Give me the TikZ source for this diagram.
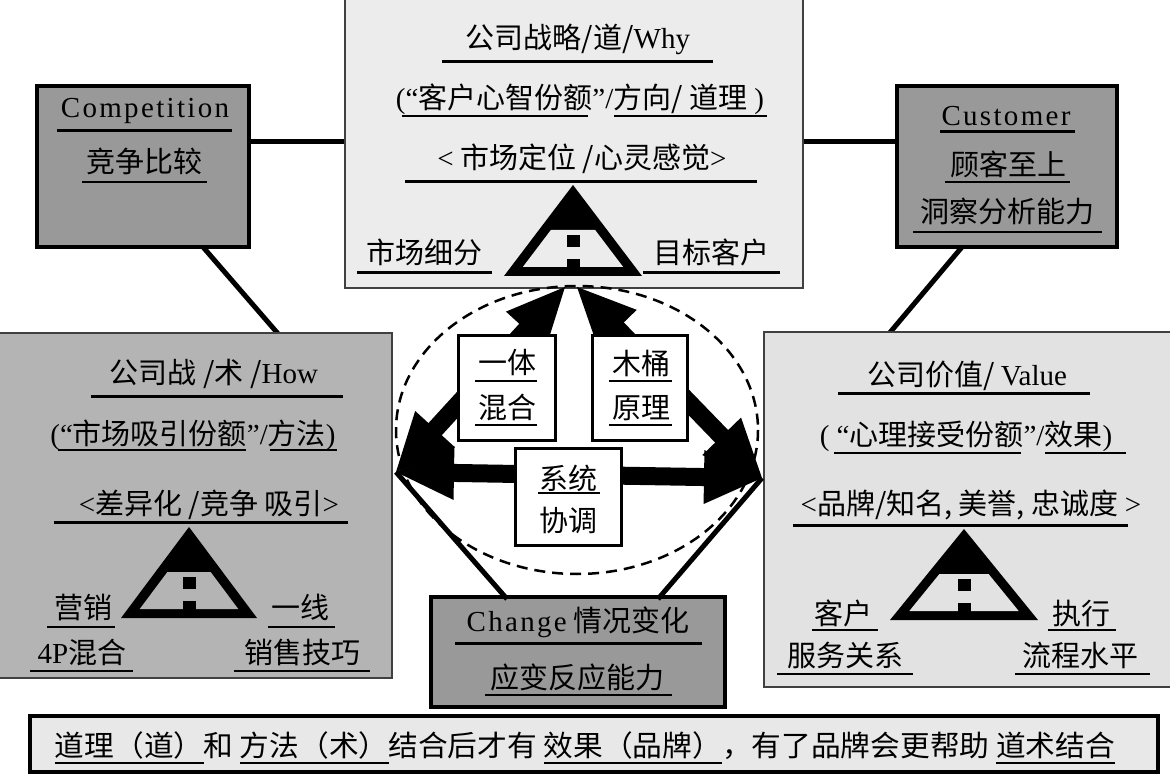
\documentclass[tikz,border=0pt]{standalone}
\usepackage{fontspec}
\setmainfont{Noto Sans CJK SC}
\newfontfamily\latf{Liberation Serif}
\newfontfamily\latsp[LetterSpace=8]{Liberation Serif}
\newcommand\lat[1]{{\latf #1}}
\newcommand\ulx[1]{\setbox0\hbox{#1}\rlap{\rule[-8pt]{\wd0}{2.5pt}}\box0}
\usetikzlibrary{calc}
\definecolor{topfill}{RGB}{236,236,236}
\definecolor{valfill}{RGB}{226,226,226}
\definecolor{howfill}{RGB}{180,180,180}
\definecolor{darkfill}{RGB}{153,153,153}
\definecolor{botfill}{RGB}{232,232,232}
\newcommand\dblarrow[2]{%
  \coordinate (p1) at ($(#1)!58pt!(#2)$);
  \coordinate (p2) at ($(#2)!58pt!(#1)$);
  \fill (#1) -- ($(p1)!27pt!90:(#2)$) -- ($(p1)!9pt!90:(#2)$) -- ($(p2)!9pt!-90:(#1)$)
    -- ($(p2)!27pt!-90:(#1)$) -- (#2) -- ($(p2)!27pt!90:(#1)$) -- ($(p2)!9pt!90:(#1)$)
    -- ($(p1)!9pt!-90:(#2)$) -- ($(p1)!27pt!-90:(#2)$) -- cycle;}
\newcommand\logo[4]{%
  \begin{scope}[shift={(#1,#2)}]
    \pgfmathsetmacro\la{#3*45/91-12}
    \pgfmathsetmacro\lb{#3*82/91-12}
    \fill (0,0) -- (-#3,91) -- (#3,91) -- cycle;
    \fill[#4] (-\la,45) -- (\la,45) -- (\lb,82) -- (-\lb,82) -- cycle;
    \fill (-6.5,50) rectangle (6.5,62);
    \fill (-6.5,74) rectangle (6.5,91);
  \end{scope}}
\tikzset{
  bx/.style={inner sep=0pt, outer sep=0pt, rectangle},
  lightbox/.style={bx, draw=black!75, line width=1.3pt},
  darkbox/.style={bx, draw=black, line width=4pt, fill=darkfill},
  whitebox/.style={bx, draw=black, line width=3pt, fill=white},
  conn/.style={line width=5pt},
  txt/.style={inner sep=0pt, anchor=base, font=\fontsize{29}{34}\selectfont},
  ul/.style={line width=2pt},
  ulb/.style={line width=3pt},
}
\begin{document}
\begin{tikzpicture}[x=1pt,y=-1pt]
\useasboundingbox (0,0) rectangle (1170,775);
% connectors under boxes
\draw[conn] (149,142) -- (440,142);
\draw[conn] (1000,142) -- (700,142);
\draw[conn] (203,247) -- (280,336);
\draw[conn] (962,247) -- (887,336);
% big boxes
\node[lightbox, fill=topfill, minimum width=458pt, minimum height=292pt] (why) at (574,142) {};
\node[darkbox, minimum width=212pt, minimum height=161pt] (comp) at (143,166.5) {};
\node[darkbox, minimum width=220pt, minimum height=161pt] (cust) at (1007,166.5) {};
\node[lightbox, fill=howfill, minimum width=394pt, minimum height=345pt] (how) at (195,505.5) {};
\node[lightbox, fill=valfill, minimum width=408pt, minimum height=355pt] (value) at (968,509.5) {};
% dashed ellipse
\draw[line width=2.5pt, dash pattern=on 11pt off 7pt] (577,430) ellipse [x radius=181, y radius=144];
% points of the arrows
\coordinate (L) at (396,472);
\coordinate (R) at (762,478);
\coordinate (T1) at (565,287);
\coordinate (T2) at (577,287);
\node[darkbox, minimum width=294pt, minimum height=110pt] (change) at (578,652) {};
\draw[conn] (L) -- ([xshift=-71pt,yshift=-2pt]change.north);
\draw[conn] (R) -- ([xshift=80pt,yshift=-2pt]change.north);
\dblarrow{T1}{L}
\dblarrow{T2}{R}
\dblarrow{L}{R}
% small boxes
\node[whitebox, minimum width=97pt, minimum height=104pt] (c1) at (506.5,388) {};
\node[whitebox, minimum width=95pt, minimum height=104pt] (c2) at (639.5,388) {};
\node[whitebox, minimum width=106pt, minimum height=97pt] (c3) at (568,496.5) {};
% bottom box
\node[bx, draw=black, line width=4pt, fill=botfill, minimum width=1128pt, minimum height=56pt] (bottom) at (594,744) {};
% triangles
\logo{573}{185}{69}{topfill}
\logo{189}{527}{68}{howfill}
\logo{964}{529}{74}{valfill}
% ---- top box text
\node[txt] (t1) at (578,49) {公司战略/道/\lat{Why}};
\draw[ulb] (442,62) -- (713,62);
\node[txt] (t2) at (580,109) {\lat{(“}客户心智份额\lat{”/}方向/ 道理\lat{ )}};
\draw[ul] (402,116) -- (588,116);
\draw[ul] (614,116) -- (767,116);
\node[txt] (t3) at (582,169) {\lat{<} 市场定位 /心灵感觉\lat{>}};
\draw[ulb] (405,182) -- (757,182);
\node[txt] (t4) at (424,264) {市场细分};
\draw[ulb] (357,273) -- (492,273);
\node[txt] (t5) at (711,264) {目标客户};
\draw[ulb] (643,273) -- (780,273);
% ---- competition / customer
\node[txt] (k1) at (145,118) {{\latsp Competition}};
\draw[ulb] (57,131) -- (232,131);
\node[txt] (k2) at (144,173) {竞争比较};
\draw[ul] (82,182) -- (207,182);
\node[txt] (u1) at (1006,126) {{\latsp Customer}};
\draw[ulb] (940,132) -- (1075,132);
\node[txt] (u2) at (1008,176) {顾客至上};
\draw[ul] (945,182) -- (1070,182);
\node[txt] (u3) at (1007,223) {洞察分析能力};
\draw[ul] (913,232) -- (1102,232);
% ---- left box
\node[txt] (h1) at (214,384) {公司战 /术 /\lat{How}};
\draw[ulb] (91,397) -- (343,397);
\node[txt] (h2) at (193,444) {\lat{(“}市场吸引份额\lat{”/}方法\lat{)}};
\draw[ul] (58,450) -- (246,450);
\draw[ul] (270,450) -- (337,450);
\node[txt] (h3) at (209,514) {\lat{<}差异化 /竞争 吸引\lat{>}};
\draw[ulb] (54,522) -- (348,522);
\node[txt] (h4) at (83,618) {营销};
\draw[ul] (47,627) -- (115,627);
\node[txt] (h5) at (82,663) {\lat{4P}混合};
\draw[ul] (30,671) -- (133,671);
\node[txt] (h6) at (300,618) {一线};
\draw[ul] (268,627) -- (335,627);
\node[txt] (h7) at (302,663) {销售技巧};
\draw[ul] (234,671) -- (370,671);
% ---- right box
\node[txt] (v1) at (967,386) {公司价值/ \lat{Value}};
\draw[ulb] (838,394) -- (1090,394);
\node[txt] (v2) at (966,446) {\lat{( “}心理接受份额\lat{”/}效果\lat{)}};
\draw[ul] (834,453) -- (1021,453);
\draw[ul] (1045,453) -- (1126,453);
\node[txt] (v3) at (971,514) {\lat{<}品牌/知名, 美誉, 忠诚度 \lat{>}};
\draw[ulb] (793,525) -- (1128,525);
\node[txt] (v4) at (843,624) {客户};
\draw[ul] (812,630) -- (878,630);
\node[txt] (v5) at (845,666) {服务关系};
\draw[ul] (777,674) -- (913,674);
\node[txt] (v6) at (1081,624) {执行};
\draw[ul] (1048,630) -- (1116,630);
\node[txt] (v7) at (1080,666) {流程水平};
\draw[ul] (1015,674) -- (1150,674);
% ---- centre boxes
\node[txt] (c1a) at (507,374) {一体};
\draw[ul] (475,381) -- (537,381);
\node[txt] (c1b) at (507,418) {混合};
\draw[ul] (475,425) -- (537,425);
\node[txt] (c2a) at (641,375) {木桶};
\draw[ul] (609,381) -- (672,381);
\node[txt] (c2b) at (641,418) {原理};
\draw[ul] (609,425) -- (672,425);
\node[txt] (c3a) at (568,489) {系统};
\draw[ul] (538,493) -- (600,493);
\node[txt] (c3b) at (568,531) {协调};
% ---- change box
\node[txt] (g1) at (578,631) {{\latsp Change} 情况变化};
\draw[ulb] (455,643) -- (702,643);
\node[txt] (g2) at (577,688) {应变反应能力};
\draw[ul] (485,695) -- (672,695);
% ---- bottom text
\node[txt] (b1) at (585,756) {\resizebox{1060pt}{\height}{\ulx{道理（道）}和 \ulx{方法（术）}结合后才有 \ulx{效果（品牌）}，有了品牌会更帮助 \ulx{道术结合}}};
\end{tikzpicture}
\end{document}
